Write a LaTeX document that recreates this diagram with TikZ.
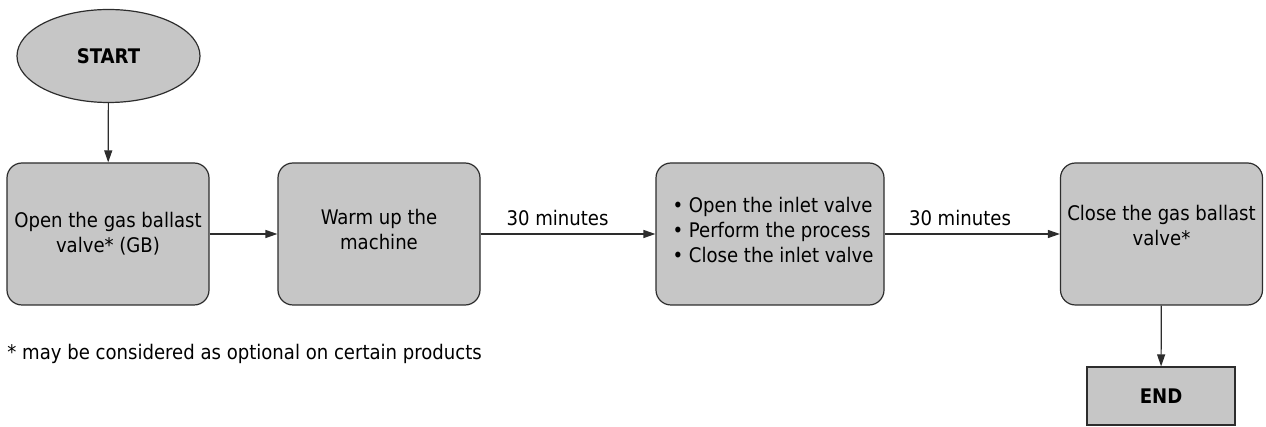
\documentclass[tikz,border=0pt]{standalone}
\usepackage{fontspec}
\setmainfont{DejaVu Sans Condensed}
\usetikzlibrary{shapes.geometric,arrows.meta}
\definecolor{boxgray}{RGB}{198,198,198}
\definecolor{linegray}{RGB}{45,45,45}
\newcommand{\mfs}{\fontsize{10.05}{12.5}\selectfont}
\tikzset{
  procbox/.style={draw=linegray, fill=boxgray, line width=0.6pt, rounded corners=7.5pt,
    minimum width=101pt, minimum height=71pt, inner sep=0pt, align=center, font=\mfs},
  flow/.style={draw=linegray, line width=0.6pt, -{Triangle[length=6pt,width=4pt]}},
  lbl/.style={font=\mfs, inner sep=1pt},
  txt/.style={align=center, inner sep=0pt, font=\mfs}
}
\begin{document}
\begin{tikzpicture}[x=0.5pt,y=-0.5pt]
\useasboundingbox (0,0) rectangle (1266,427);
\node[ellipse, draw=linegray, fill=boxgray, line width=0.6pt, minimum width=91.5pt, minimum height=46.5pt, inner sep=0pt, font=\bfseries\mfs] (start) at (108.5,56) {START};
\node[procbox] (b1) at (108,234) {Open the gas ballast\\valve* (GB)};
\node[procbox] (b2) at (379,234) {};
\node[txt] (b2t) at (379,230) {Warm up the\\machine};
\node[procbox, minimum width=114pt] (b3) at (770,234) {};
\node[txt, align=left] (b3t) at (773,230) {\textbullet{} Open the inlet valve\\\textbullet{} Perform the process\\\textbullet{} Close the inlet valve};
\node[procbox] (b4) at (1161.5,234) {};
\node[txt] (b4t) at (1161.5,226) {Close the gas ballast\\valve*};
\node[draw=linegray, fill=boxgray, line width=0.6pt, minimum width=74pt, minimum height=29pt, inner sep=0pt, font=\bfseries\mfs] (end) at (1161,396) {END};
\draw[flow] (start) -- (b1);
\draw[flow] (b1) -- (b2);
\draw[flow] (b2) -- node[lbl, above, pos=0.44, yshift=3pt] (l1) {30 minutes} (b3);
\draw[flow] (b3) -- node[lbl, above, pos=0.43, yshift=3pt] (l2) {30 minutes} (b4);
\draw[flow] (b4) -- (end);
\node[anchor=west, font=\mfs, inner sep=0pt] (note) at (7,354) {* may be considered as optional on certain products};
\end{tikzpicture}
\end{document}
